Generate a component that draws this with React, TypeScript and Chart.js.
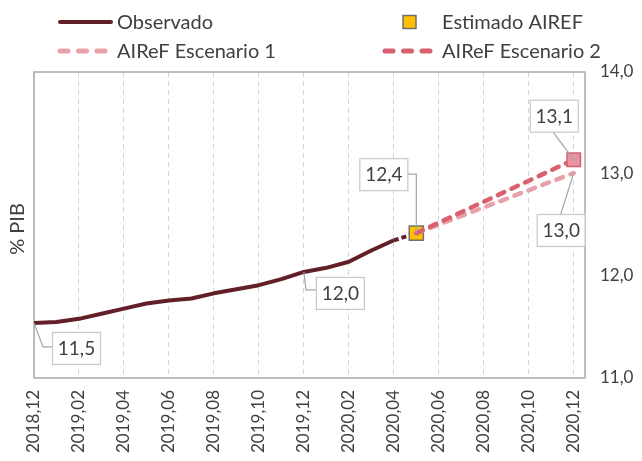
import React, { useEffect, useRef } from "react";
import { Chart, registerables } from "chart.js";

Chart.register(...registerables);

// ---------- data ----------
const MONTHS = [
  "2018,12", "2019,01", "2019,02", "2019,03", "2019,04", "2019,05", "2019,06",
  "2019,07", "2019,08", "2019,09", "2019,10", "2019,11", "2019,12", "2020,01",
  "2020,02", "2020,03", "2020,04", "2020,05", "2020,06", "2020,07", "2020,08",
  "2020,09", "2020,10", "2020,11", "2020,12",
];
const TICK_MONTHS = [0, 2, 4, 6, 8, 10, 12, 14, 16, 18, 20, 22, 24];
const OBSERVADO = [
  11.54, 11.55, 11.58, 11.63, 11.68, 11.73, 11.76, 11.78, 11.83, 11.87,
  11.91, 11.97, 12.04, 12.08, 12.14, 12.25, 12.35, 12.42,
];
const ESTIMADO_X = [17];
const ESTIMADO = [12.42];
const ESC_X = [17, 24];
const ESC1 = [12.42, 13.01];
const ESC2 = [12.42, 13.14];
const Y_TICKS = [11, 12, 13, 14];

// ---------- styles ----------
const FONT = "Lato, 'DejaVu Sans', sans-serif";
const TEXT = "#404040";
const C_OBS = "#621F28";
const C_ESC1 = "#E8A1A9";
const C_ESC2 = "#D8606F";
const C_EST = "#FFC000";

const fmt = (v: number) => v.toFixed(1).replace(".", ",");

const overlay = {
  id: "overlay",
  beforeDatasetsDraw(chart: any) {
    const { ctx, chartArea: a } = chart;
    ctx.save();
    ctx.strokeStyle = "#ABABAB";
    ctx.lineWidth = 1.5;
    ctx.strokeRect(a.left, a.top, a.right - a.left, a.bottom - a.top);
    ctx.restore();
  },
  afterDatasetsDraw(chart: any) {
    const { ctx } = chart;
    const xs = chart.scales.x;
    const ys = chart.scales.y;
    const px = (x: number) => xs.getPixelForValue(x);
    const py = (y: number) => ys.getPixelForValue(y);

    // callouts
    const callouts = [
      { x: 0, y: OBSERVADO[0], kind: "down" },
      { x: 12, y: OBSERVADO[12], kind: "down2" },
      { x: ESTIMADO_X[0], y: ESTIMADO[0], kind: "left" },
      { x: ESC_X[1], y: ESC2[1], kind: "above" },
      { x: ESC_X[1], y: ESC1[1], kind: "below" },
    ];
    const W = 48, H = 32;
    ctx.save();
    ctx.font = `19px ${FONT}`;
    ctx.textAlign = "center";
    ctx.textBaseline = "middle";
    for (const c of callouts) {
      const ax = px(c.x), ay = py(c.y);
      let bx = 0, by = 0;
      const pts: [number, number][] = [];
      if (c.kind === "down") {
        bx = ax + 18; by = ay + 9;
        pts.push([ax, ay], [ax + 9, by + H / 2 - 1], [bx, by + H / 2 - 1]);
      } else if (c.kind === "down2") {
        bx = ax + 12; by = ay + 5;
        pts.push([ax, ay], [ax + 2, by + 13], [bx, by + 13]);
      } else if (c.kind === "left") {
        bx = ax - 57; by = ay - 75;
        pts.push([bx + W, by + H / 2], [ax, by + H / 2], [ax, ay]);
      } else if (c.kind === "above") {
        bx = ax - 44; by = ay - 60;
        pts.push([bx + 23, by + H], [ax, ay]);
      } else {
        bx = ax - 37; by = ay + 41;
        pts.push([bx + 24, by], [ax, ay]);
      }
      ctx.strokeStyle = "#A6A6A6";
      ctx.lineWidth = 1.2;
      ctx.beginPath();
      pts.forEach((p, i) => (i ? ctx.lineTo(p[0], p[1]) : ctx.moveTo(p[0], p[1])));
      ctx.stroke();
      ctx.fillStyle = "#FFFFFF";
      ctx.fillRect(bx, by, W, H);
      ctx.strokeStyle = "#C8C8C8";
      ctx.lineWidth = 1.2;
      ctx.strokeRect(bx + 0.5, by + 0.5, W, H);
      ctx.fillStyle = TEXT;
      ctx.fillText(fmt(c.y), bx + W / 2 + 0.5, by + H / 2 + 1);
    }
    ctx.restore();
  },
  afterDraw(chart: any) {
    const { ctx, chartArea: a } = chart;
    ctx.save();
    // y axis title
    ctx.fillStyle = TEXT;
    ctx.font = `20px ${FONT}`;
    ctx.textAlign = "center";
    ctx.textBaseline = "middle";
    ctx.translate(18, (a.top + a.bottom) / 2 + 4);
    ctx.rotate(-Math.PI / 2);
    ctx.fillText("% PIB", 0, 0);
    ctx.restore();

    // legend
    ctx.save();
    ctx.font = `20px ${FONT}`;
    ctx.textBaseline = "middle";
    ctx.textAlign = "left";
    const items = [
      { kind: "solid", color: C_OBS, x: 58, x2: 113, y: 22, label: "Observado", tx: 117 },
      { kind: "square", color: C_EST, x: 403, x2: 417, y: 22, label: "Estimado AIREF", tx: 442 },
      { kind: "dash", color: C_ESC1, x: 58, x2: 107, y: 51, label: "AIReF Escenario 1", tx: 117 },
      { kind: "dash", color: C_ESC2, x: 383, x2: 432, y: 51, label: "AIReF Escenario 2", tx: 442 },
    ];
    for (const it of items) {
      if (it.kind === "square") {
        ctx.fillStyle = it.color;
        ctx.fillRect(it.x, it.y - 6.5, 13, 13);
        ctx.strokeStyle = "#707070";
        ctx.lineWidth = 1.5;
        ctx.strokeRect(it.x, it.y - 6.5, 13, 13);
      } else {
        ctx.strokeStyle = it.color;
        ctx.lineWidth = it.kind === "solid" ? 4 : 5;
        ctx.lineCap = "round";
        ctx.setLineDash(it.kind === "solid" ? [] : [8, 10.5]);
        ctx.beginPath();
        ctx.moveTo(it.x + 2, it.y);
        ctx.lineTo(it.x2 - 2, it.y);
        ctx.stroke();
        ctx.setLineDash([]);
      }
      ctx.fillStyle = TEXT;
      ctx.fillText(it.label, it.tx, it.y + 1);
    }
    ctx.restore();
  },
};

export default function App() {
  const ref = useRef<HTMLCanvasElement | null>(null);

  useEffect(() => {
    if (!ref.current) return;
    const obsData = OBSERVADO.map((v, i) => ({ x: i, y: v }));
    const chart = new Chart(ref.current, {
      type: "line",
      data: {
        datasets: [
          {
            label: "AIReF Escenario 2",
            data: ESC_X.map((x, i) => ({ x, y: ESC2[i] })),
            borderColor: C_ESC2,
            borderWidth: 4.5,
            borderDash: [7, 8],
            borderCapStyle: "round",
            pointStyle: "rect",
            pointRadius: [0, 9.5],
            pointBackgroundColor: "#E8939E",
            pointBorderColor: "#D56173",
            pointBorderWidth: 1.5,
            tension: 0,
          },
          {
            label: "AIReF Escenario 1",
            data: ESC_X.map((x, i) => ({ x, y: ESC1[i] })),
            borderColor: C_ESC1,
            borderWidth: 4.5,
            borderDash: [7, 8],
            borderCapStyle: "round",
            pointRadius: 0,
            tension: 0,
          },
          {
            label: "Estimado AIREF",
            data: ESTIMADO_X.map((x, i) => ({ x, y: ESTIMADO[i] })),
            showLine: false,
            pointStyle: "rect",
            pointRadius: 10,
            pointBackgroundColor: C_EST,
            pointBorderColor: "#707070",
            pointBorderWidth: 1.5,
          },
          {
            label: "Observado",
            data: obsData,
            borderColor: C_OBS,
            borderWidth: 4,
            pointRadius: 0,
            tension: 0,
            borderJoinStyle: "round",
            segment: {
              borderDash: (c: any) => (c.p0DataIndex === OBSERVADO.length - 2 ? [5, 3] : undefined),
            },
          },
        ],
      },
      options: {
        animation: false,
        responsive: true,
        maintainAspectRatio: false,
        layout: { padding: { left: 34, top: 72, right: 0, bottom: 0 } },
        plugins: { legend: { display: false }, tooltip: { enabled: false } },
        scales: {
          x: {
            type: "linear",
            min: 0,
            max: 24.5,
            afterBuildTicks: (s: any) => {
              s.ticks = TICK_MONTHS.map((v) => ({ value: v }));
            },
            afterFit: (s: any) => {
              s.height = 83;
            },
            ticks: {
              autoSkip: false,
              minRotation: 90,
              maxRotation: 90,
              padding: 12,
              color: TEXT,
              font: { family: FONT, size: 17 },
              callback: (v: any) => MONTHS[Math.round(Number(v))] ?? "",
            },
            grid: { color: "#D4D4D4", lineWidth: 1, drawTicks: false },
            border: { display: false, dash: [5, 4] },
          },
          y: {
            type: "linear",
            position: "right",
            min: 11,
            max: 14,
            afterBuildTicks: (s: any) => {
              s.ticks = Y_TICKS.map((v) => ({ value: v }));
            },
            afterFit: (s: any) => {
              s.width = 57;
            },
            ticks: {
              padding: 15,
              color: TEXT,
              font: { family: FONT, size: 17 },
              callback: (v: any) => fmt(Number(v)),
            },
            grid: { display: false, drawTicks: false },
            border: { display: false },
          },
        },
      },
      plugins: [overlay],
    } as any);
    return () => chart.destroy();
  }, []);

  return (
    <div style={{ position: "fixed", left: 0, top: 0, width: 642, height: 461, background: "#fff" }}>
      <canvas ref={ref} />
    </div>
  );
}
